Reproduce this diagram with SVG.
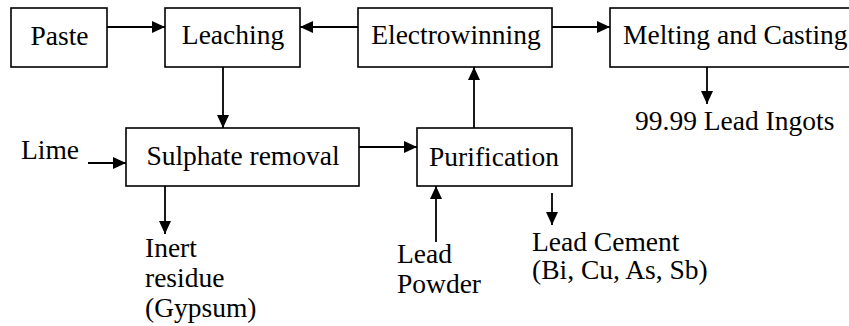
<svg xmlns="http://www.w3.org/2000/svg" width="849" height="326" viewBox="0 0 849 326">
<style>
.box{fill:#fff;stroke:#000;stroke-width:1.6}
.t{font-family:'Liberation Serif','Times New Roman',serif;font-size:27.5px;fill:#000}
.c{text-anchor:middle}
.ln{fill:none;stroke:#000;stroke-width:1.8;marker-end:url(#ah)}
</style>
<defs>
<marker id="ah" markerUnits="userSpaceOnUse" markerWidth="13" markerHeight="12" refX="13" refY="6" orient="auto">
<path d="M0,0 L13,6 L0,12 z" fill="#000"/>
</marker>
</defs>
<rect width="849" height="326" fill="#fff"/>
<g id="connectors">
<path class="ln" d="M107,27 L165,27"/>
<path class="ln" d="M358,27 L300,27"/>
<path class="ln" d="M552,27 L610,27"/>
<path class="ln" d="M223,67 L223,128"/>
<path class="ln" d="M88,163 L126,163"/>
<path class="ln" d="M359,147 L417,147"/>
<path class="ln" d="M474,128 L474,67"/>
<path class="ln" d="M707,67 L707,104"/>
<path class="ln" d="M165,186 L165,234"/>
<path class="ln" d="M436,242 L436,186"/>
<path class="ln" d="M552,193 L552,225"/>
</g>
<g id="paste"><rect class="box" x="11" y="8" width="96" height="59"/><text class="t c" x="59.5" y="45">Paste</text></g>
<g id="leaching"><rect class="box" x="165" y="8" width="135" height="59"/><text class="t c" x="233" y="44">Leaching</text></g>
<g id="electrowinning"><rect class="box" x="358" y="8" width="194" height="59"/><text class="t c" x="456" y="44">Electrowinning</text></g>
<g id="melting"><rect class="box" x="610" y="8" width="260" height="59"/><text class="t" x="623" y="44">Melting and Casting</text></g>
<g id="sulphate"><rect class="box" x="126" y="128" width="233" height="58"/><text class="t c" x="243" y="165">Sulphate removal</text></g>
<g id="purification"><rect class="box" x="417" y="128" width="155" height="58"/><text class="t c" x="494" y="166">Purification</text></g>
<g id="lime"><text class="t" x="21" y="159">Lime</text></g>
<g id="ingots"><text class="t" x="635" y="130">99.99 Lead Ingots</text></g>
<g id="inert"><text class="t" x="145" y="257">Inert</text><text class="t" x="145" y="287">residue</text><text class="t" x="145" y="317">(Gypsum)</text></g>
<g id="leadpowder"><text class="t" x="397" y="263">Lead</text><text class="t" x="397" y="293">Powder</text></g>
<g id="leadcement"><text class="t" x="532" y="251">Lead Cement</text><text class="t" x="532" y="279">(Bi, Cu, As, Sb)</text></g>
</svg>
